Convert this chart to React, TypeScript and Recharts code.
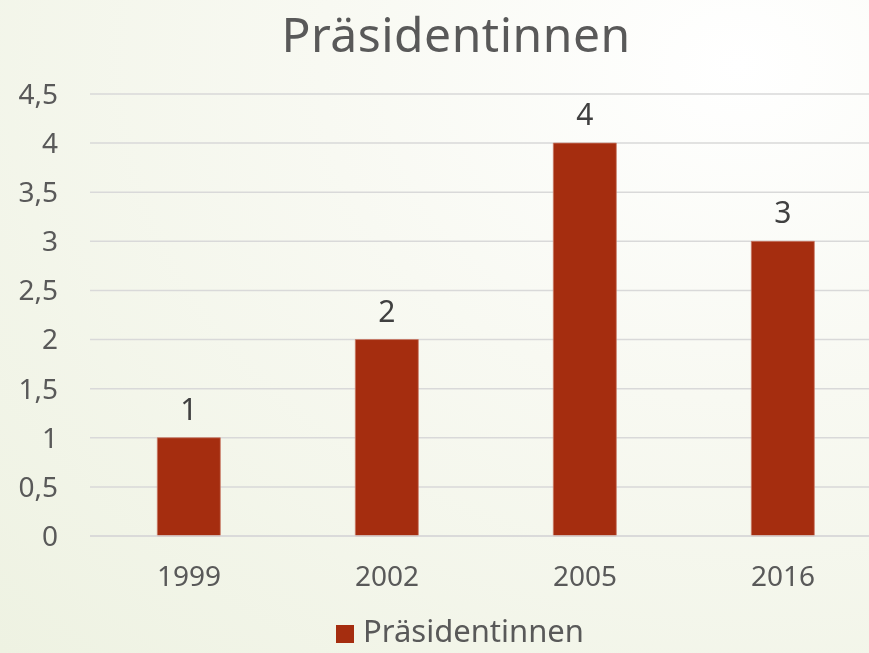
import { Bar, BarChart, CartesianGrid, LabelList, Legend, XAxis, YAxis } from 'recharts'

const CHART_WIDTH = 869
const CHART_HEIGHT = 653
const FONT = "'Noto Sans', 'DejaVu Sans', sans-serif"
const TEXT_COLOR = '#595959'
const BAR_COLOR = '#a52d0f'

const years = ['1999', '2002', '2005', '2016']
const presidents = [1, 2, 4, 3]
const yTicks = [0, 0.5, 1, 1.5, 2, 2.5, 3, 3.5, 4, 4.5]

const data = years.map((year, i) => ({ year, value: presidents[i] }))

const formatTick = (v: number) => String(v).replace('.', ',')

export default function App() {
  return (
    <div
      style={{
        position: 'fixed',
        left: 0,
        top: 0,
        width: CHART_WIDTH,
        height: CHART_HEIGHT,
        overflow: 'hidden',
        background:
          'radial-gradient(ellipse at 85% 10%, #ffffff 0%, #f8f9f2 40%, #eef2e2 100%)',
        fontFamily: FONT
      }}
    >
      {/* title box centred on x = 456, like the reference */}
      <div
        style={{
          position: 'absolute',
          top: 1,
          left: 236,
          width: 440,
          textAlign: 'center',
          whiteSpace: 'nowrap',
          fontSize: 48,
          letterSpacing: 0.5,
          color: TEXT_COLOR,
          lineHeight: 'normal'
        }}
      >
        Präsidentinnen
      </div>
      <BarChart
        width={CHART_WIDTH}
        height={CHART_HEIGHT}
        data={data}
        margin={{ top: 94, right: -13, bottom: 0, left: 0 }}
        barCategoryGap='34%'
      >
        <CartesianGrid
          vertical={false}
          stroke='#d9d9d9'
          strokeWidth={1.5}
        />
        <XAxis
          dataKey='year'
          height={71}
          axisLine={{ stroke: '#d9d9d9', strokeWidth: 1.5 }}
          tickLine={false}
          tick={{ fill: TEXT_COLOR, fontSize: 28, fontFamily: FONT }}
          tickMargin={24}
        />
        <YAxis
          width={90}
          domain={[0, 4.5]}
          ticks={yTicks}
          interval={0}
          axisLine={false}
          tickLine={false}
          tickFormatter={formatTick}
          tick={{ fill: TEXT_COLOR, fontSize: 28, fontFamily: FONT }}
          tickMargin={26}
        />
        <Legend
          verticalAlign='bottom'
          iconType='square'
          iconSize={18}
          wrapperStyle={{
            fontSize: 31,
            fontFamily: FONT,
            lineHeight: '46px',
            left: 24
          }}
          formatter={(value) => (
            <span style={{ color: TEXT_COLOR, marginLeft: 5 }}>{value}</span>
          )}
        />
        <Bar
          dataKey='value'
          name='Präsidentinnen'
          fill={BAR_COLOR}
          stroke='#c87a66'
          strokeWidth={0.75}
          isAnimationActive={false}
        >
          <LabelList
            dataKey='value'
            position='top'
            offset={18}
            fill='#404040'
            fontSize={30}
            fontFamily={FONT}
          />
        </Bar>
      </BarChart>
    </div>
  )
}
